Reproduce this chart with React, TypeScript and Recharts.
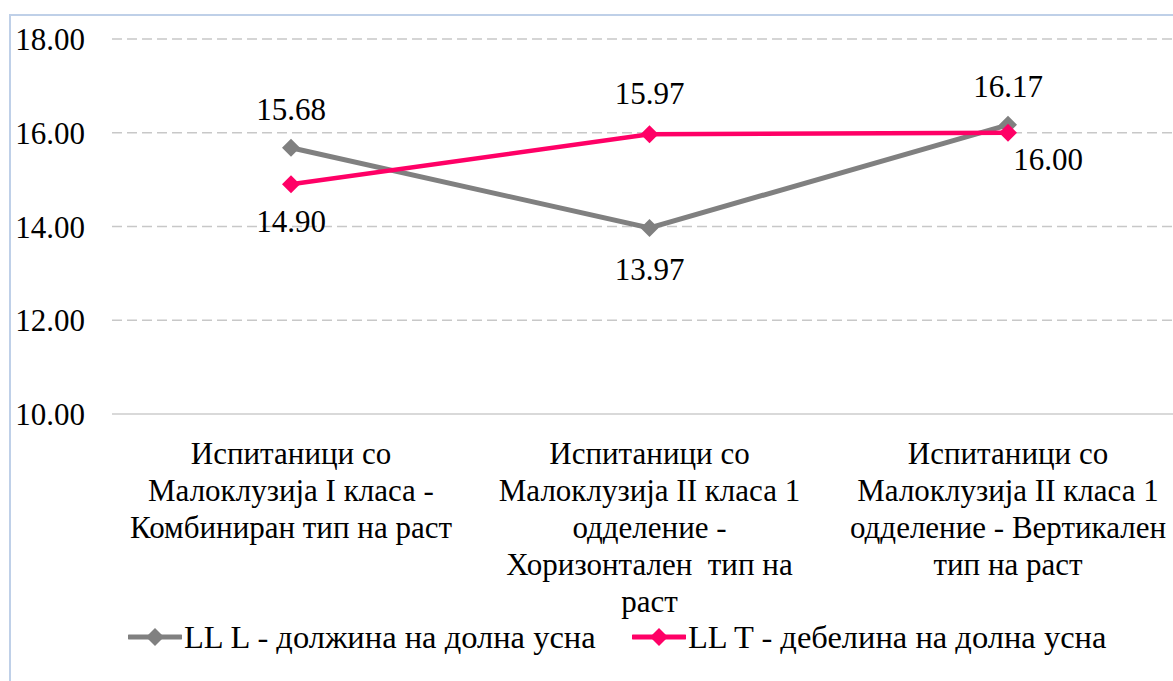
import React from 'react';
import { LineChart, Line, XAxis, YAxis, CartesianGrid, Legend } from 'recharts';

const categories = [
  'Испитаници со\nМалоклузија I класа -\nКомбиниран тип на раст',
  'Испитаници со\nМалоклузија II класа 1\nодделение -\nХоризонтален  тип на\nраст',
  'Испитаници со\nМалоклузија II класа 1\nодделение - Вертикален\nтип на раст',
];
const llLength = [15.68, 13.97, 16.17];
const llThickness = [14.9, 15.97, 16.0];
const yTicks = [10, 12, 14, 16, 18];
const seriesNames = ['LL L - должина на долна усна', 'LL T - дебелина на долна усна'];

const data = categories.map((c, i) => ({ cat: c, l: llLength[i], t: llThickness[i] }));

const FONT = 'Liberation Serif';
const GRAY = '#808080';
const PINK = '#ff0066';

// label offsets (dx, dy from point) per series, per point
const grayLabelPos = [[0, -38], [0, 42], [0, -38]];
const pinkLabelPos = [[0, 37], [0, -41], [40, 27]];

const Diamond = (color: string, r: number) => (props: any) => {
  const { cx, cy, index } = props;
  if (cx == null || cy == null) return <g key={index} />;
  return (
    <path
      key={index}
      d={`M${cx},${cy - r} L${cx + r},${cy} L${cx},${cy + r} L${cx - r},${cy} Z`}
      fill={color}
    />
  );
};

const makeLabel = (pos: number[][]) => (props: any) => {
  const { x, y, value, index } = props;
  const [dx, dy] = pos[index] || [0, 0];
  return (
    <text
      key={index}
      x={x + dx}
      y={y + dy}
      textAnchor="middle"
      dominantBaseline="central"
      fontFamily={FONT}
      fontSize={31}
      fill="#000"
    >
      {Number(value).toFixed(2)}
    </text>
  );
};

const CategoryTick = (props: any) => {
  const { x, y, payload } = props;
  const lines = String(payload.value).split('\n');
  return (
    <text x={x} y={y + 42} textAnchor="middle" fontFamily={FONT} fontSize={31} fill="#000">
      {lines.map((ln, i) => (
        <tspan key={i} x={x} dy={i === 0 ? 0 : 37} style={{ whiteSpace: 'pre' }}>
          {ln}
        </tspan>
      ))}
    </text>
  );
};

const LegendContent = () => {
  const colors = [GRAY, PINK];
  return (
    <div style={{ position: 'relative', height: 32 }}>
      {seriesNames.map((name, i) => (
        <div
          key={name}
          style={{
            position: 'absolute',
            left: i === 0 ? 128 : 632,
            top: 0,
            display: 'flex',
            alignItems: 'center',
            height: 32,
            fontFamily: FONT,
            fontSize: 32.5,
            color: '#000',
            whiteSpace: 'nowrap',
          }}
        >
          <svg width={54} height={20} style={{ marginRight: 2 }}>
            <line x1={1} y1={10} x2={53} y2={10} stroke={colors[i]} strokeWidth={5} strokeLinecap="round" />
            <path d="M27,1 L36,10 L27,19 L18,10 Z" fill={colors[i]} />
          </svg>
          <span>{name}</span>
        </div>
      ))}
    </div>
  );
};

export default function App() {
  return (
    <div
      style={{
        position: 'absolute',
        left: 0,
        top: 0,
        width: 1173,
        height: 681,
        overflow: 'hidden',
        background: '#fff',
        fontFamily: FONT,
      }}
    >
      <div
        style={{
          position: 'absolute',
          left: 9,
          top: 14,
          width: 1400,
          height: 900,
          border: '2px solid #bfd0e8',
        }}
      />
      <div style={{ position: 'absolute', left: 0, top: 0 }}>
        <LineChart
          width={1200}
          height={681}
          data={data}
          margin={{ top: 39, right: 13, left: 0, bottom: 28 }}
          style={{ fontFamily: FONT }}
        >
          <CartesianGrid vertical={false} stroke="#c8c8c8" strokeWidth={1.5} strokeDasharray="10 5" />
          <XAxis
            dataKey="cat"
            interval={0}
            height={207}
            padding={{ left: 179, right: 179 }}
            tickLine={false}
            axisLine={{ stroke: '#d9d9d9', strokeWidth: 2 }}
            tick={<CategoryTick />}
          />
          <YAxis
            width={112}
            domain={[10, 18]}
            ticks={yTicks}
            tickLine={false}
            axisLine={false}
            tickMargin={21}
            tickFormatter={(v: number) => v.toFixed(2)}
            tick={{ fontFamily: FONT, fontSize: 31, fill: '#000' }}
          />
          <Legend verticalAlign="bottom" height={32} content={<LegendContent />} />
          <Line
            dataKey="l"
            name={seriesNames[0]}
            stroke={GRAY}
            strokeWidth={5}
            dot={Diamond(GRAY, 9)}
            activeDot={false}
            label={makeLabel(grayLabelPos)}
            isAnimationActive={false}
          />
          <Line
            dataKey="t"
            name={seriesNames[1]}
            stroke={PINK}
            strokeWidth={4.5}
            dot={Diamond(PINK, 9)}
            activeDot={false}
            label={makeLabel(pinkLabelPos)}
            isAnimationActive={false}
          />
        </LineChart>
      </div>
    </div>
  );
}
